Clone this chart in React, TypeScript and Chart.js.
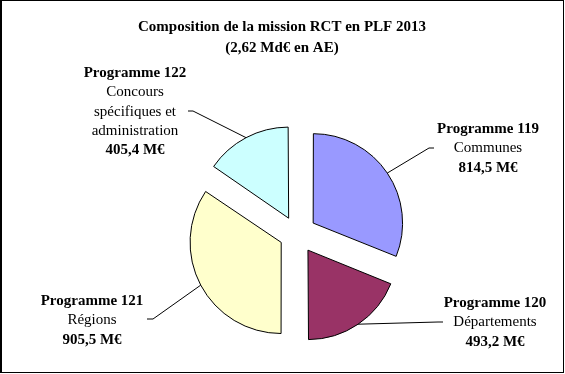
import React, { useEffect, useRef } from "react";
import { Chart, registerables } from "chart.js";

Chart.register(...registerables);

const programmes = ["Programme 119", "Programme 120", "Programme 121", "Programme 122"];
const descriptions = [["Communes"], ["Départements"], ["Régions"], ["Concours", "spécifiques et", "administration"]];
const values = [814.5, 493.2, 905.5, 405.4];
const valueLabels = ["814,5 M€", "493,2 M€", "905,5 M€", "405,4 M€"];
const colors = ["#9999FF", "#993366", "#FFFFCC", "#CCFFFF"];
const titleLines = ["Composition de la mission RCT en PLF 2013", "(2,62 Md€ en AE)"];

// layout for labels: centre x, first line y, elbow, end of leader
const labelLayout = [
  { cx: 488, y0: 129, elbow: [429, 148], end: [434, 148] },
  { cx: 495, y0: 303, elbow: [438, 322], end: [443, 322] },
  { cx: 92, y0: 301, elbow: [153, 319], end: [147, 319] },
  { cx: 135, y0: 73, elbow: [193, 111], end: [188, 111] },
];
const LINE_H = 19.4;
const FONT = "'Liberation Serif', 'Times New Roman', serif";

const decorPlugin = {
  id: "decor",
  afterDatasetsDraw(chart: any) {
    const ctx = chart.ctx;
    ctx.save();
    // frame
    ctx.strokeStyle = "#000";
    ctx.lineWidth = 1;
    ctx.strokeRect(0.5, 0.5, 563, 372);
    ctx.beginPath();
    ctx.moveTo(1.5, 0);
    ctx.lineTo(1.5, 373);
    ctx.stroke();
    // title
    ctx.fillStyle = "#000";
    ctx.textAlign = "center";
    ctx.textBaseline = "middle";
    ctx.font = "bold 15px " + FONT;
    ctx.fillText(titleLines[0], 282, 27);
    ctx.fillText(titleLines[1], 282, 48);

    const meta = chart.getDatasetMeta(0);
    meta.data.forEach((arc: any, i: number) => {
      const p = arc.getProps(["x", "y", "startAngle", "endAngle", "outerRadius", "circumference"], true);
      const off = (arc.options.offset || 0) / 4;
      const fix = 1 - Math.sin(Math.min(Math.PI, p.circumference || 0));
      const t = off + off * fix;
      const mid = (p.startAngle + p.endAngle) / 2;
      const sx = p.x + Math.cos(mid) * (t + p.outerRadius);
      const sy = p.y + Math.sin(mid) * (t + p.outerRadius);
      const L = labelLayout[i];
      ctx.beginPath();
      ctx.strokeStyle = "#000";
      ctx.lineWidth = 1;
      ctx.moveTo(sx, sy);
      ctx.lineTo(L.elbow[0], L.elbow[1]);
      ctx.lineTo(L.end[0], L.end[1]);
      ctx.stroke();

      const lines: { text: string; bold: boolean }[] = [
        { text: programmes[i], bold: true },
        ...descriptions[i].map((d) => ({ text: d, bold: false })),
        { text: valueLabels[i], bold: true },
      ];
      lines.forEach((ln, k) => {
        ctx.font = (ln.bold ? "bold " : "") + "15px " + FONT;
        ctx.fillText(ln.text, L.cx, L.y0 + k * LINE_H);
      });
    });
    ctx.restore();
  },
};

export default function App() {
  const ref = useRef<HTMLCanvasElement>(null);
  useEffect(() => {
    document.body.style.margin = "0";
    const chart = new Chart(ref.current!, {
      type: "pie",
      data: {
        labels: programmes,
        datasets: [
          {
            data: values,
            backgroundColor: colors,
            borderColor: "#000",
            borderWidth: 1,
            offset: [78, 78, 71.5, 71.5],
          },
        ],
      },
      options: {
        responsive: false,
        animation: false,
        radius: 88,
        layout: { padding: { left: 120, right: 91, top: 140, bottom: 46 } },
        plugins: { legend: { display: false }, tooltip: { enabled: false }, title: { display: false } },
      },
      plugins: [decorPlugin],
    } as any);
    return () => chart.destroy();
  }, []);
  return (
    <div style={{ width: 565, height: 374, background: "#fff" }}>
      <canvas ref={ref} width={565} height={374} style={{ display: "block" }} />
    </div>
  );
}
